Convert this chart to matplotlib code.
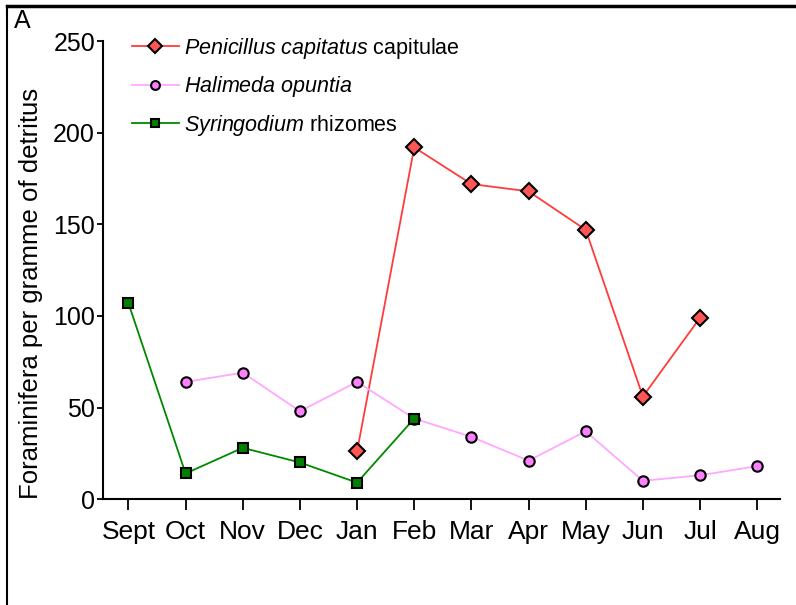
import matplotlib.pyplot as plt
import numpy as np
from matplotlib.lines import Line2D

plt.rcParams["font.family"] = ["Liberation Sans", "DejaVu Sans"]
plt.rcParams["mathtext.fontset"] = "custom"
plt.rcParams["mathtext.it"] = "Liberation Sans:italic"
plt.rcParams["mathtext.rm"] = "Liberation Sans"

months = ["Sept", "Oct", "Nov", "Dec", "Jan", "Feb", "Mar", "Apr", "May", "Jun", "Jul", "Aug"]

# Penicillus capitatus capitulae (Jan - Jul)
penicillus = [np.nan, np.nan, np.nan, np.nan, 26, 192, 172, 168, 147, 56, 99, np.nan]
# Halimeda opuntia (Oct - Aug)
halimeda = [np.nan, 64, 69, 48, 64, 44, 34, 21, 37, 10, 13, 18]
# Syringodium rhizomes (Sept - Feb)
syringodium = [107, 14, 28, 20, 9, 44, np.nan, np.nan, np.nan, np.nan, np.nan, np.nan]

x = np.arange(len(months))

fig = plt.figure(figsize=(7.96, 6.05), dpi=100)
ax = fig.add_axes([0.129, 0.175, 0.851, 0.757])

ax.plot(x, penicillus, color="#ff3c3c", lw=1.3, marker="D", ms=8.5,
        mfc="#ff5555", mec="black", mew=1.5,
        label=r"$\it{Penicillus\ capitatus}$ capitulae")
ax.plot(x, halimeda, color="#ffa8ff", lw=1.3, marker="o", ms=7.5,
        mfc="#ff80ff", mec="black", mew=1.5,
        label=r"$\it{Halimeda\ opuntia}$")
ax.plot(x, syringodium, color="#008a00", lw=1.3, marker="s", ms=7.5,
        mfc="#008000", mec="black", mew=1.5,
        label=r"$\it{Syringodium}$ rhizomes")

ax.set_xlim(-0.45, 11.4)
ax.set_ylim(0, 250)
ax.set_yticks([0, 50, 100, 150, 200, 250])
ax.set_xticks(x)
ax.set_xticklabels(months)

for s in ["top", "right"]:
    ax.spines[s].set_visible(False)
ax.spines["left"].set_linewidth(1.5)
ax.spines["bottom"].set_linewidth(1.5)
ax.tick_params(axis="y", direction="out", length=4.5, width=1.3, labelsize=18, pad=1)
ax.tick_params(axis="x", direction="out", length=8, width=1.3, labelsize=19, pad=7)

ax.set_ylabel("Foraminifera per gramme of detritus", fontsize=18.5)
ax.yaxis.set_label_coords(-0.088, 0.45)

leg = ax.legend(loc="upper left", bbox_to_anchor=(0.03, 1.03), frameon=False,
                fontsize=15.5, handlelength=2.2, handletextpad=0.25,
                labelspacing=0.62, borderaxespad=0, markerscale=0.85)

fig.text(0.018, 0.985, "A", fontsize=18, va="top", ha="left")

# panel frame
fig.add_artist(Line2D([0.009, 1.0], [0.99, 0.99], color="black", lw=2.5,
                      transform=fig.transFigure))
fig.add_artist(Line2D([0.009, 0.009], [0.0, 0.99], color="black", lw=1.5,
                      transform=fig.transFigure))

fig.savefig("out.png", dpi=100)
